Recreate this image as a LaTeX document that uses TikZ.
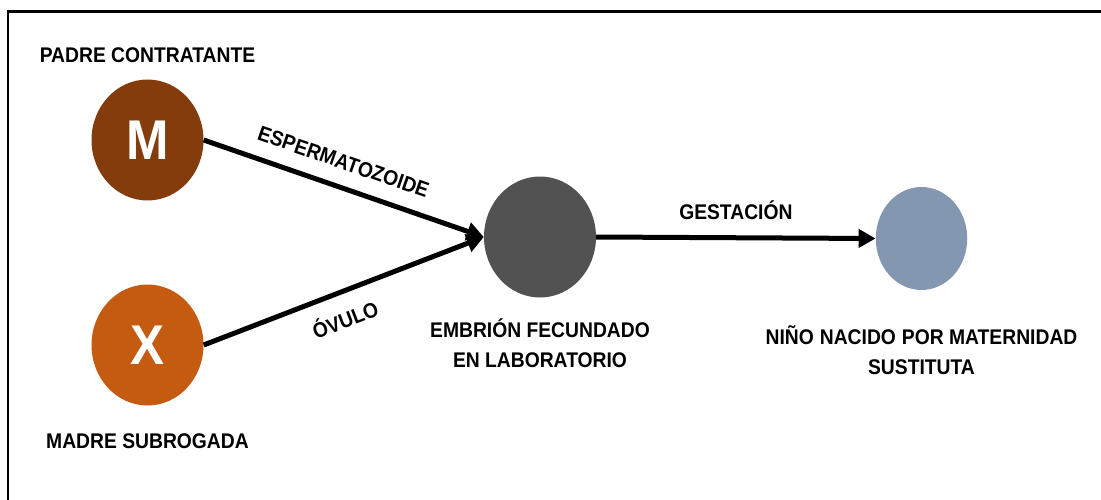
\documentclass[tikz,border=0pt]{standalone}
\usepackage{fontspec}
\setmainfont{Liberation Sans}[FakeStretch=0.91]
\usetikzlibrary{arrows.meta,shapes.geometric}
\definecolor{padre}{HTML}{843C0C}
\definecolor{madre}{HTML}{C55A11}
\definecolor{embrion}{HTML}{525252}
\definecolor{nino}{HTML}{8497B0}

\begin{document}
\begin{tikzpicture}
[x=1pt,y=-1pt,>={Triangle[length=17pt,width=18pt]},
 txt/.style={font=\bfseries\fontsize{21.2}{30}\selectfont,inner sep=0pt,text=black},
 every label/.style={txt,align=center},
 person/.style={ellipse,minimum width=112pt,minimum height=121pt,inner sep=0pt,text=white,font=\bfseries\fontsize{56}{60}\selectfont},
 arrow/.style={->,line width=5pt},]
\useasboundingbox (0,0) rectangle (1101,500);
\draw[line width=2.5pt] (8,500) -- (8,11.5) -- (1101,11.5);

\node (M) at (147.5, 140)[person,fill=padre,label={[label distance=16.5pt]above:PADRE CONTRATANTE}]{M};
\node (X) at (147.5, 345)[person,fill=madre,label={[label distance=28pt]below:MADRE SUBROGADA}]{X};
\node (E) at (540, 237)[person,fill=embrion,label={[label distance=21pt]below:EMBRIÓN FECUNDADO\\EN LABORATORIO}]{};
\node (N) at (921.5, 238.5)[ellipse,minimum width=91.5pt,minimum height=103pt,inner sep=0pt,fill=nino,
  label={[label distance=35pt]below:NIÑO\hspace{6pt}NACIDO\hspace{6pt}POR MATERNIDAD\\SUSTITUTA}]{};

%\node (Z) at (540, 450)[txt]{};
\draw[arrow] (M.east) -- (E.west) node[pos=0.47,sloped,above=15pt,txt]{ESPERMATOZOIDE};
\draw[arrow] (X.east) -- (E.west) node[pos=0.47,sloped,below=14pt,txt]{ÓVULO};
\draw[arrow] (E.east) -- (N.west) node[midway,above=16pt,txt]{GESTACIÓN};

\end{tikzpicture}
\end{document}
